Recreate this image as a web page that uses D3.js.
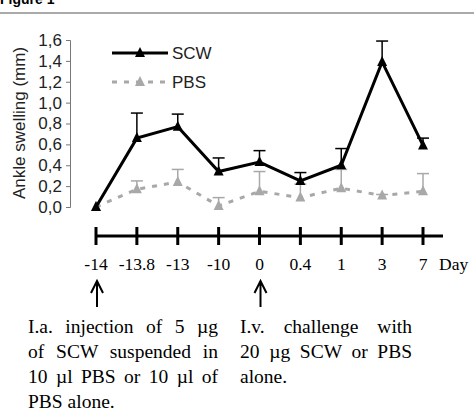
<!DOCTYPE html>
<html>
<head>
<meta charset="utf-8">
<script src="https://cdn.jsdelivr.net/npm/d3@7"></script>
<style>
  body { margin: 0; background: #fff; }
  svg { display: block; }
</style>
</head>
<body>
<svg></svg>
<script>
var width = 474;
var height = 411;

// data
var days = ["-14", "-13.8", "-13", "-10", "0", "0.4", "1", "3", "7"];
var scwMean = [0.0, 0.66, 0.77, 0.34, 0.43, 0.25, 0.40, 1.39, 0.59];
var scwErrTop = [0.0, 0.90, 0.89, 0.47, 0.54, 0.33, 0.56, 1.59, 0.66];
var pbsMean = [0.0, 0.17, 0.24, 0.01, 0.15, 0.09, 0.18, 0.11, 0.15];
var pbsErrTop = [0.0, 0.25, 0.36, 0.09, 0.34, 0.22, 0.36, 0.12, 0.32];
var yTicks = [0, 0.2, 0.4, 0.6, 0.8, 1.0, 1.2, 1.4, 1.6];
var leftNote = ["I.a. injection of 5 µg", "of SCW suspended in", "10 µl PBS or 10 µl of", "PBS alone."];
var rightNote = ["I.v. challenge with", "20 µg SCW or PBS", "alone."];

var grey = "#a8a8a8";

const svg = d3.select('svg')
    .attr('width', width)
    .attr('height', height);

// header
svg.append('text')
    .attr('x', 0).attr('y', 4)
    .attr('font-family', 'Liberation Sans, Arial, sans-serif')
    .attr('font-weight', 'bold')
    .attr('font-size', 14)
    .text('Figure 1');
svg.append('line')
    .attr('x1', 0).attr('x2', width)
    .attr('y1', 13).attr('y2', 13)
    .attr('stroke', '#aaa').attr('stroke-width', 2);

const x = d3.scalePoint().domain(days).range([96, 423]);
const y = d3.scaleLinear().domain([0, 1.6]).range([207, 40]);

// y axis
const yAxis = svg.append('g')
    .attr('transform', 'translate(70,0)')
    .call(d3.axisLeft(y).tickValues(yTicks).tickSize(4).tickPadding(4)
        .tickFormat(d => d3.format('.1f')(d).replace('.', ',')));
yAxis.select('.domain').attr('stroke', '#777');
yAxis.selectAll('.tick line').attr('stroke', '#777');
yAxis.selectAll('text')
    .attr('font-family', 'Liberation Sans, Arial, sans-serif')
    .attr('font-size', 17)
    .attr('fill', '#222');

svg.append('text')
    .attr('transform', 'translate(25,123) rotate(-90)')
    .attr('text-anchor', 'middle')
    .attr('font-family', 'Liberation Sans, Arial, sans-serif')
    .attr('font-size', 17)
    .attr('fill', '#222')
    .text('Ankle swelling (mm)');

function tri(cx, cy, s) {
    return `M${cx},${cy - s * 0.6}L${cx + s / 2},${cy + s * 0.4}L${cx - s / 2},${cy + s * 0.4}Z`;
}

function drawSeries(mean, errTop, color, dash) {
    const g = svg.append('g');
    // error bars (upper only)
    days.forEach(function(d, i) {
        if (errTop[i] <= mean[i]) return;
        g.append('line')
            .attr('x1', x(d)).attr('x2', x(d))
            .attr('y1', y(mean[i])).attr('y2', y(errTop[i]))
            .attr('stroke', color).attr('stroke-width', 1.5);
        g.append('line')
            .attr('x1', x(d) - 6).attr('x2', x(d) + 6)
            .attr('y1', y(errTop[i])).attr('y2', y(errTop[i]))
            .attr('stroke', color).attr('stroke-width', 1.5);
    });
    const line = d3.line()
        .x((v, i) => x(days[i]))
        .y(v => y(v));
    g.append('path')
        .datum(mean)
        .attr('d', line)
        .attr('fill', 'none')
        .attr('stroke', color)
        .attr('stroke-width', 3)
        .attr('stroke-dasharray', dash);
    g.selectAll('path.mk')
        .data(mean)
        .enter().append('path')
        .attr('class', 'mk')
        .attr('d', (v, i) => tri(x(days[i]), y(v), 10))
        .attr('fill', color);
}

drawSeries(pbsMean, pbsErrTop, grey, '5,7');
drawSeries(scwMean, scwErrTop, '#000', null);

// legend
var legend = [
    { name: 'SCW', color: '#000', dash: null, y: 53 },
    { name: 'PBS', color: grey, dash: '5,7', y: 82 }
];
legend.forEach(function(l) {
    svg.append('line')
        .attr('x1', 112).attr('x2', 168)
        .attr('y1', l.y).attr('y2', l.y)
        .attr('stroke', l.color).attr('stroke-width', 3)
        .attr('stroke-dasharray', l.dash);
    svg.append('path').attr('d', tri(140, l.y, 10)).attr('fill', l.color);
    svg.append('text')
        .attr('x', 172).attr('y', l.y + 6)
        .attr('font-family', 'Liberation Sans, Arial, sans-serif')
        .attr('font-size', 17)
        .attr('fill', '#222')
        .text(l.name);
});

// timeline
var tlY = 236;
svg.append('line')
    .attr('x1', x(days[0])).attr('x2', 443)
    .attr('y1', tlY).attr('y2', tlY)
    .attr('stroke', '#000').attr('stroke-width', 3);
svg.selectAll('line.tt')
    .data(days)
    .enter().append('line')
    .attr('class', 'tt')
    .attr('x1', d => x(d)).attr('x2', d => x(d))
    .attr('y1', tlY - 9).attr('y2', tlY + 9)
    .attr('stroke', '#000').attr('stroke-width', 3);
svg.selectAll('text.tl')
    .data(days)
    .enter().append('text')
    .attr('class', 'tl')
    .attr('x', d => x(d))
    .attr('y', 270)
    .attr('text-anchor', 'middle')
    .attr('font-family', 'Liberation Serif, Times New Roman, serif')
    .attr('font-size', 17.5)
    .text(d => d);
svg.append('text')
    .attr('x', 439).attr('y', 270)
    .attr('font-family', 'Liberation Serif, Times New Roman, serif')
    .attr('font-size', 17.5)
    .text('Day');

// arrows
[days[0], days[4]].forEach(function(d) {
    var ax = x(d) + 1;
    svg.append('path')
        .attr('d', `M${ax},307V281M${ax - 6},293L${ax},281L${ax + 6},293`)
        .attr('fill', 'none')
        .attr('stroke', '#000')
        .attr('stroke-width', 2);
});

// notes, justified
function note(lines, x0, x1) {
    lines.forEach(function(t, i) {
        var el = svg.append('text')
            .attr('x', x0).attr('y', 333 + i * 25)
            .attr('font-family', 'Liberation Serif, Times New Roman, serif')
            .attr('font-size', 19.5)
            .text(t);
        if (i < lines.length - 1) {
            var w = el.node().getComputedTextLength();
            var n = t.split(' ').length - 1;
            if (n > 0) el.attr('word-spacing', (x1 - x0 - w) / n);
        }
    });
}
note(leftNote, 28, 218);
note(rightNote, 240, 412);
</script>
</body>
</html>
